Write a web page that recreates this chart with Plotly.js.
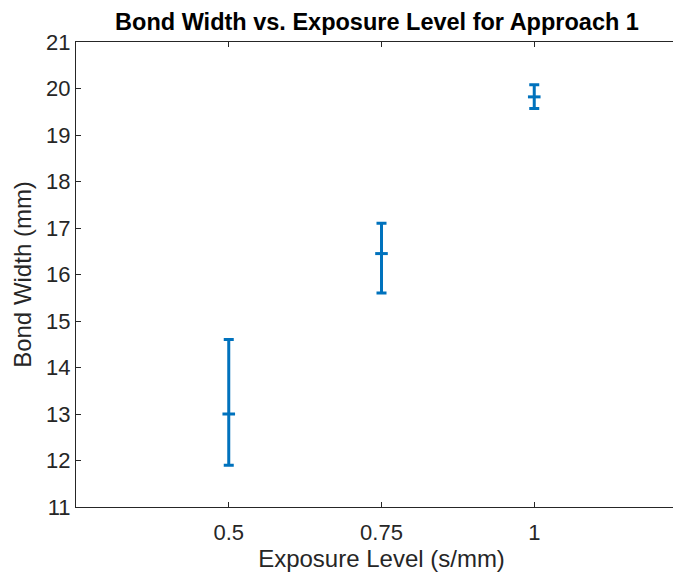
<!DOCTYPE html>
<html>
<head>
<meta charset="utf-8">
<script src="https://cdn.plot.ly/plotly-3.0.1.min.js"></script>
<style>html,body{margin:0;padding:0;overflow:hidden;background:#fff;width:673px;height:572px;}#chart{width:673px;height:572px;overflow:hidden;}</style>
</head>
<body>
<div id="chart"></div>
<script>
const exposure = [0.5, 0.75, 1];
const bondWidth = [13.0, 16.45, 19.82];
const errPlus = [1.6, 0.65, 0.26];
const errMinus = [1.1, 0.85, 0.25];
const xTicks = [0.5, 0.75, 1];
const xTickLabels = ['0.5', '0.75', '1'];

const FONT = 'Liberation Sans, Arial, Helvetica, sans-serif';

const trace = {
  x: exposure,
  y: bondWidth,
  type: 'scatter',
  mode: 'markers',
  marker: {symbol: 'line-ew', size: 9, color: '#0072BD', line: {color: '#0072BD', width: 3}},
  error_y: {type: 'data', symmetric: false, array: errPlus, arrayminus: errMinus,
            color: '#0072BD', thickness: 3, width: 5},
  showlegend: false
};

const axisCommon = {
  showgrid: false, zeroline: false, showline: true,
  linecolor: '#262626', linewidth: 1, ticks: 'inside', ticklen: 5, tickcolor: '#262626',
  tickfont: {family: FONT, size: 22, color: '#262626'}
};

const layout = {
  width: 690, height: 572,
  margin: {l: 76, r: 3, t: 42, b: 65},
  paper_bgcolor: '#fff', plot_bgcolor: '#fff',
  title: {text: '<b>Bond Width vs. Exposure Level for Approach 1</b>', x: 377/690, xanchor: 'center', xref: 'container',
          y: 1 - 22/572, yanchor: 'middle', yref: 'container',
          font: {family: FONT, size: 23.5, color: '#000'}},
  xaxis: Object.assign({}, axisCommon, {
    mirror: 'ticks',
    range: [0.25, 1.25], tickvals: xTicks, ticktext: xTickLabels,
    ticklabelstandoff: 6,
    title: {text: 'Exposure Level (s/mm)', standoff: 7, font: {family: FONT, size: 24, color: '#262626'}}
  }),
  yaxis: Object.assign({}, axisCommon, {
    mirror: false,
    range: [11, 21], dtick: 1, tick0: 11,
    title: {text: 'Bond Width (mm)', standoff: 7, font: {family: FONT, size: 24, color: '#262626'}}
  })
};

Plotly.newPlot('chart', [trace], layout, {displayModeBar: false, staticPlot: true});
</script>
</body>
</html>
